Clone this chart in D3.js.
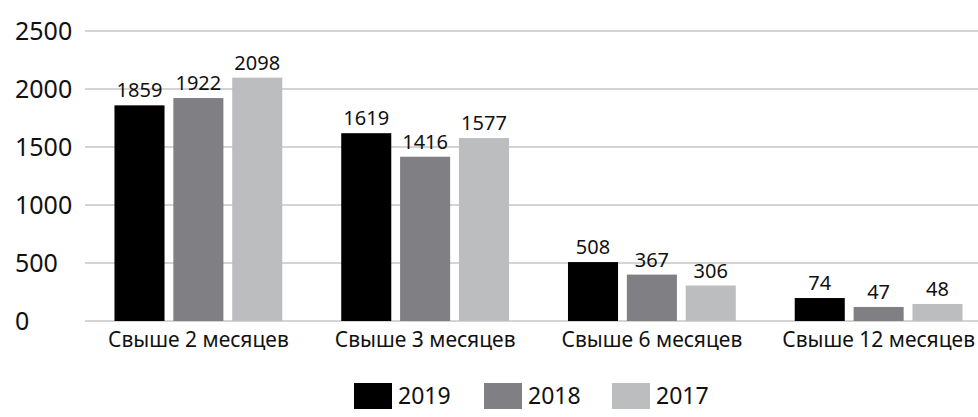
<!DOCTYPE html>
<html>
<head>
<meta charset="utf-8">
<script src="https://cdn.jsdelivr.net/npm/d3@7"></script>
<style>
  html, body { margin: 0; padding: 0; background: #fff; }
  svg { display: block; font-family: "Noto Sans", sans-serif; }
</style>
</head>
<body>
<div id="chart"></div>
<script>
// categories and series
const categories = ["Свыше 2 месяцев", "Свыше 3 месяцев", "Свыше 6 месяцев", "Свыше 12 месяцев"];
const seriesNames = ["2019", "2018", "2017"];
const seriesColors = ["#000000", "#807f84", "#bcbdbf"];

// printed data labels
const labels2019 = [1859, 1619, 508, 74];
const labels2018 = [1922, 1416, 367, 47];
const labels2017 = [2098, 1577, 306, 48];

// bar heights as drawn in the source (last group is drawn taller than its labels)
const bars2019 = [1859, 1619, 508, 198];
const bars2018 = [1922, 1416, 400, 121];
const bars2017 = [2098, 1577, 306, 147];

const yTicks = [0, 500, 1000, 1500, 2000, 2500];

const width = 978, height = 417;

const svg = d3.select("#chart")
    .append("svg")
    .attr("width", width)
    .attr("height", height);

const x0 = d3.scaleBand()
    .domain(categories)
    .range([85, 992])
    .paddingInner(0.26)
    .paddingOuter(0.13);

const x1 = d3.scaleBand()
    .domain(seriesNames)
    .range([0, x0.bandwidth()])
    .paddingInner(0.15);

const y = d3.scaleLinear()
    .domain([0, 2500])
    .range([321, 31]);

// gridlines
svg.append("g")
    .selectAll("line")
    .data(yTicks)
    .enter()
    .append("line")
    .attr("x1", 85)
    .attr("x2", width)
    .attr("y1", d => y(d))
    .attr("y2", d => y(d))
    .attr("stroke", "#d4d4d4")
    .attr("stroke-width", 2);

// y labels (left aligned)
svg.append("g")
    .selectAll("text")
    .data(yTicks)
    .enter()
    .append("text")
    .attr("x", 15)
    .attr("y", d => y(d))
    .attr("dy", "0.36em")
    .attr("font-size", 25)
    .attr("fill", "#111")
    .text(d => d);

const rows = categories.map((c, i) => ({
    category: c,
    items: [
        { series: "2019", value: bars2019[i], label: labels2019[i], color: seriesColors[0] },
        { series: "2018", value: bars2018[i], label: labels2018[i], color: seriesColors[1] },
        { series: "2017", value: bars2017[i], label: labels2017[i], color: seriesColors[2] }
    ]
}));

const groups = svg.append("g")
    .selectAll("g")
    .data(rows)
    .enter()
    .append("g")
    .attr("transform", d => `translate(${x0(d.category)},0)`);

groups.selectAll("rect")
    .data(d => d.items)
    .enter()
    .append("rect")
    .attr("x", d => x1(d.series))
    .attr("y", d => y(d.value))
    .attr("width", x1.bandwidth())
    .attr("height", d => y(0) - y(d.value))
    .attr("fill", d => d.color);

groups.selectAll("text")
    .data(d => d.items)
    .enter()
    .append("text")
    .attr("x", d => x1(d.series) + x1.bandwidth() / 2)
    .attr("y", d => y(d.value) - 8)
    .attr("text-anchor", "middle")
    .attr("font-size", 20)
    .attr("fill", "#111")
    .text(d => d.label);

// category labels
svg.append("g")
    .selectAll("text")
    .data(categories)
    .enter()
    .append("text")
    .attr("x", d => x0(d) + x0.bandwidth() / 2)
    .attr("y", 347)
    .attr("text-anchor", "middle")
    .attr("font-size", 21)
    .attr("fill", "#111")
    .text(d => d);

// legend
const legendX = [354, 484, 612];
const legend = svg.append("g")
    .selectAll("g")
    .data(seriesNames)
    .enter()
    .append("g")
    .attr("transform", (d, i) => `translate(${legendX[i]},383)`);

legend.append("rect")
    .attr("width", 38)
    .attr("height", 26)
    .attr("fill", (d, i) => seriesColors[i]);

legend.append("text")
    .attr("x", 44)
    .attr("y", 13)
    .attr("dy", "0.36em")
    .attr("font-size", 23)
    .attr("fill", "#111")
    .text(d => d);
</script>
</body>
</html>
